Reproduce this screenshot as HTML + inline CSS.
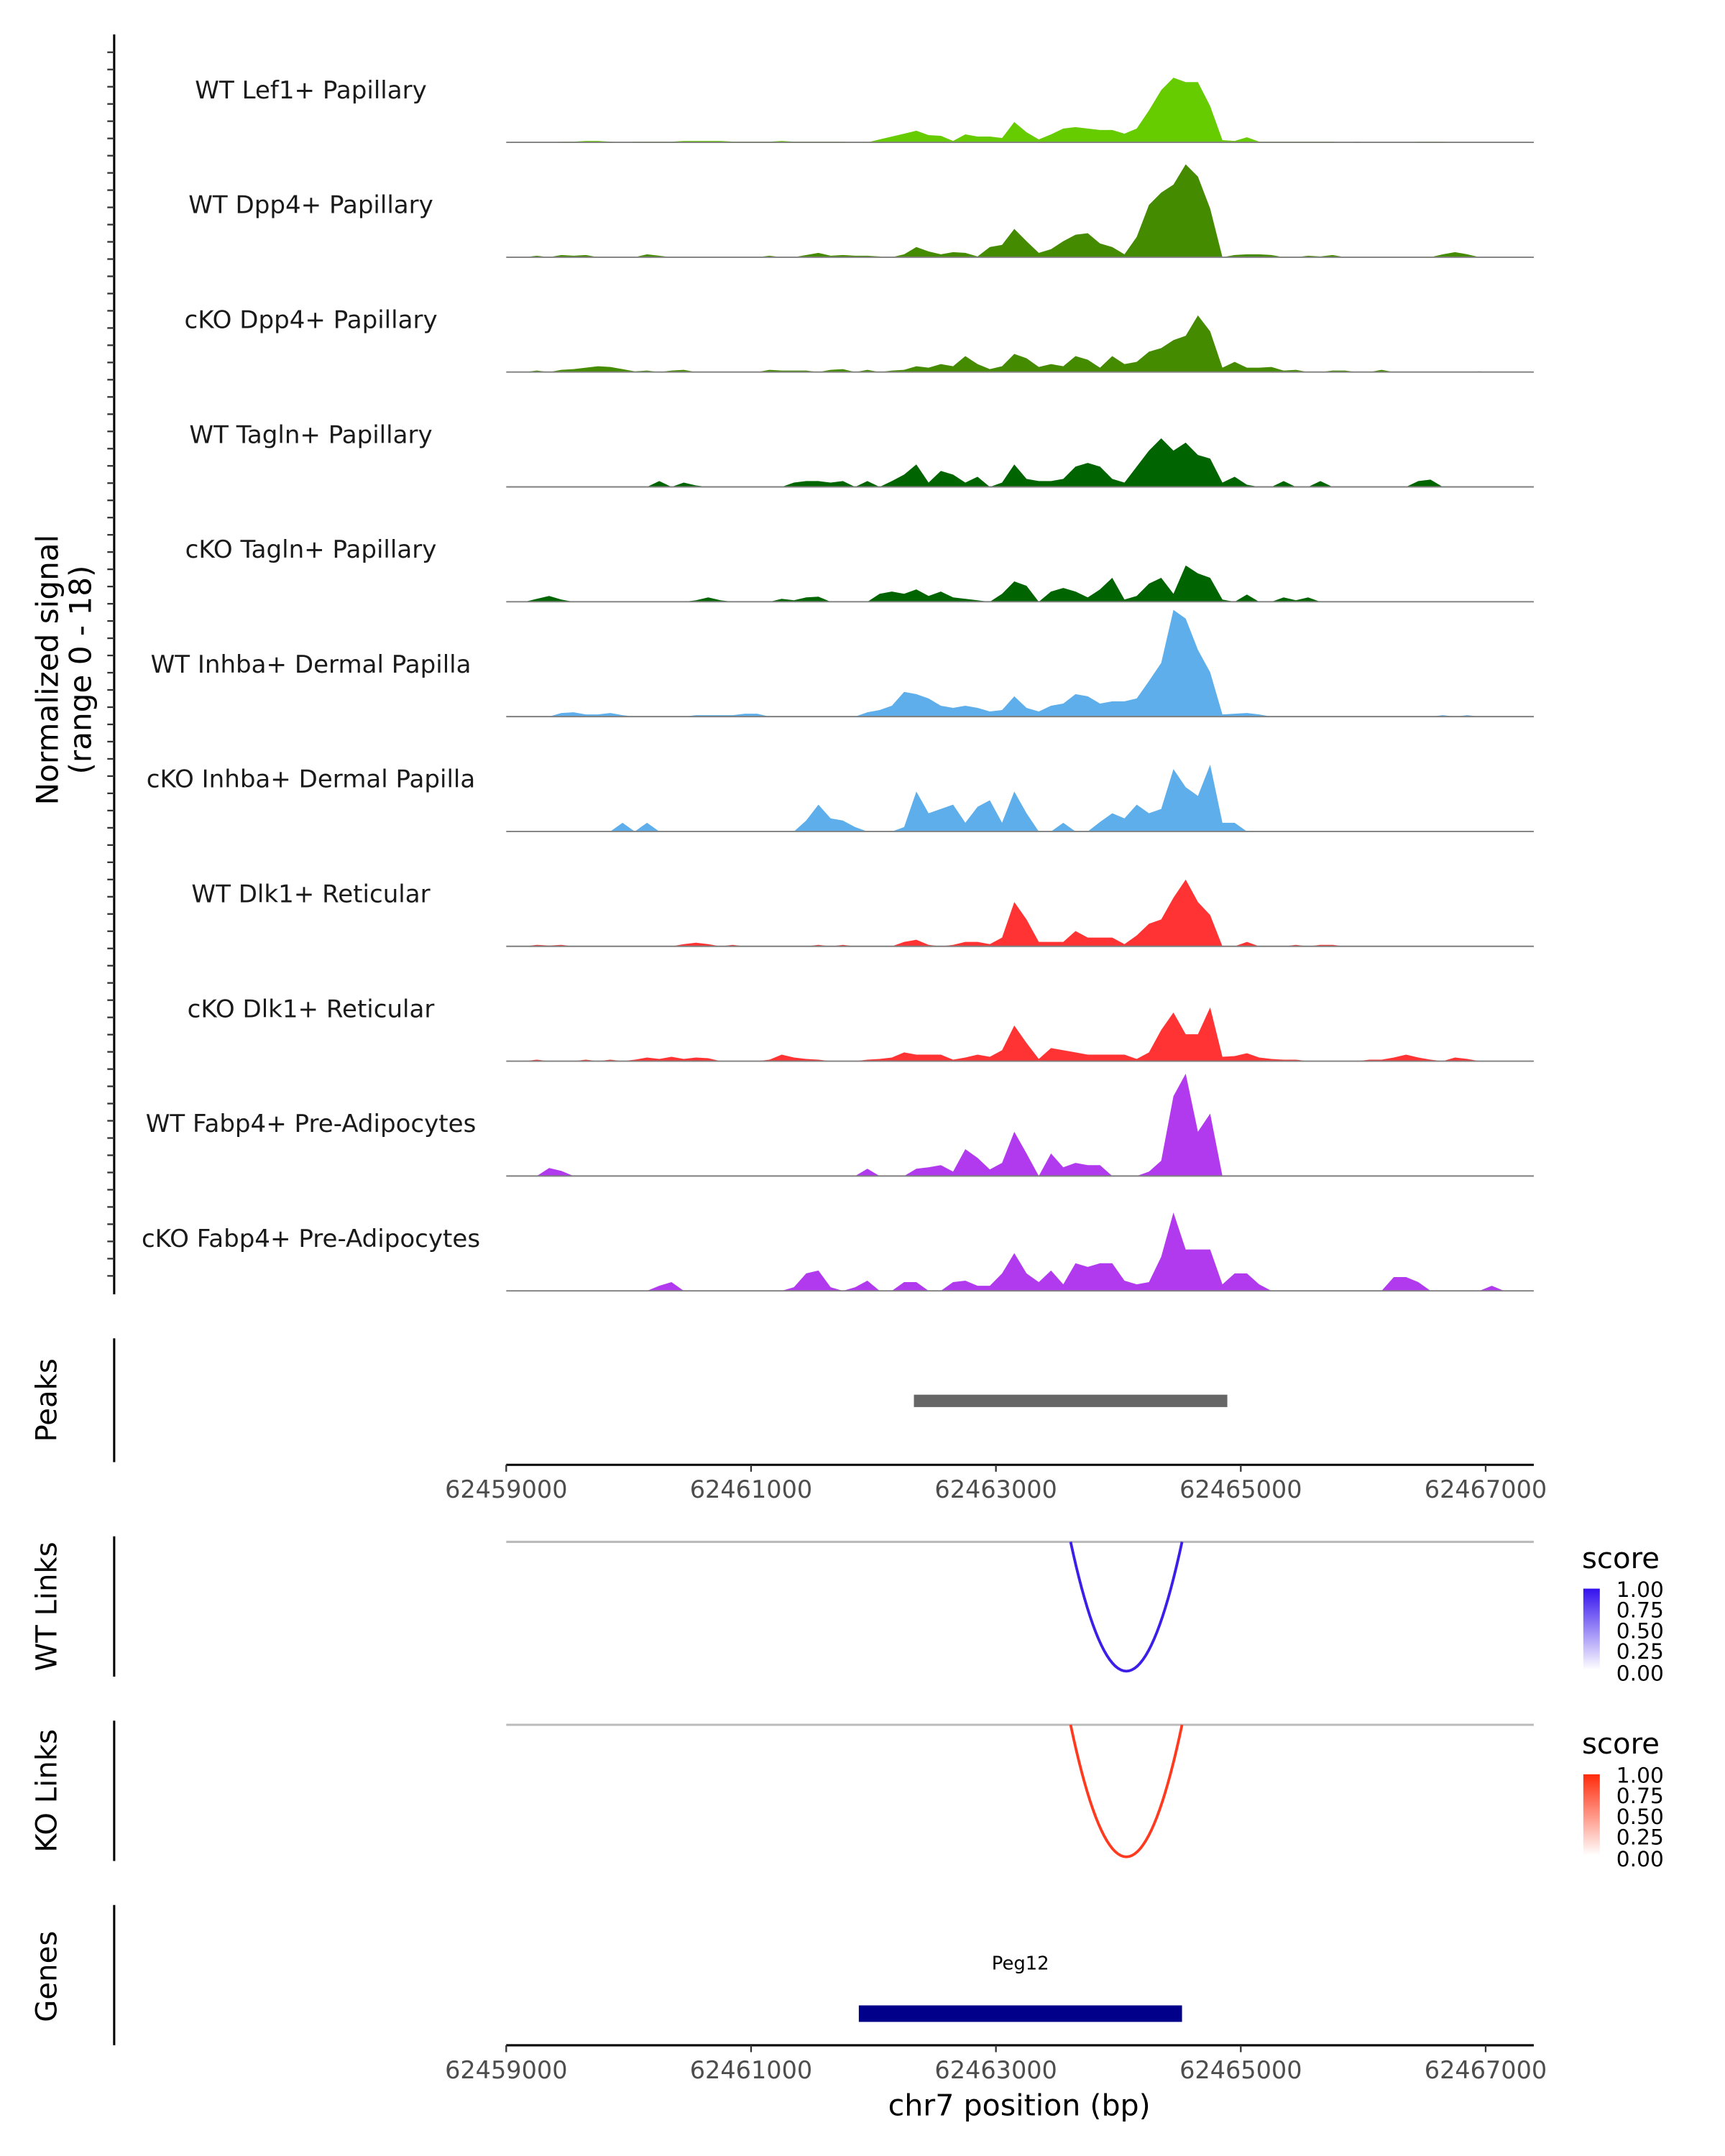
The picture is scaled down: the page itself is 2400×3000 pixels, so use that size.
<!DOCTYPE html>
<html><head><meta charset="utf-8"><style>
html,body{margin:0;padding:0;background:#fff;}
svg{display:block;font-family:"DejaVu Sans","Liberation Sans",sans-serif;}
</style></head><body>
<svg id="chart" width="2400" height="3000" viewBox="0 0 1254 1567.5" xmlns="http://www.w3.org/2000/svg">
<g id="tracks"></g>
<line x1="83" y1="25" x2="83" y2="941" stroke="#000" stroke-width="1.6"/>
<g id="yticks"></g>
<text transform="translate(42,487) rotate(-90)" text-anchor="middle" font-size="22">Normalized signal</text>
<text transform="translate(66,487) rotate(-90)" text-anchor="middle" font-size="22">(range 0 - 18)</text>

<line x1="83" y1="973" x2="83" y2="1063" stroke="#000" stroke-width="1.6"/>
<text transform="translate(41,1018) rotate(-90)" text-anchor="middle" font-size="21">Peaks</text>
<g id="peaks"></g>
<g id="xaxis1"></g>

<line x1="83" y1="1117" x2="83" y2="1219" stroke="#000" stroke-width="1.6"/>
<text transform="translate(41,1168) rotate(-90)" text-anchor="middle" font-size="21">WT Links</text>
<line x1="368" y1="1121" x2="1115" y2="1121" stroke="#bbb" stroke-width="1.6"/>
<g id="wtlinks"></g>

<line x1="83" y1="1251" x2="83" y2="1353" stroke="#000" stroke-width="1.6"/>
<text transform="translate(41,1302) rotate(-90)" text-anchor="middle" font-size="21">KO Links</text>
<line x1="368" y1="1254" x2="1115" y2="1254" stroke="#bbb" stroke-width="1.6"/>
<g id="kolinks"></g>

<defs>
<linearGradient id="gb" x1="0" y1="1" x2="0" y2="0"><stop offset="0" stop-color="#fff"/><stop offset="1" stop-color="#3311ee"/></linearGradient>
<linearGradient id="gr" x1="0" y1="1" x2="0" y2="0"><stop offset="0" stop-color="#fff"/><stop offset="1" stop-color="#ff2a0a"/></linearGradient>
</defs>
<g>
<text x="1150" y="1140" font-size="21">score</text>
<rect x="1151" y="1155" width="12" height="59" fill="url(#gb)"/>
<text x="1175" y="1161" font-size="15.5">1.00</text>
<text x="1175" y="1176" font-size="15.5">0.75</text>
<text x="1175" y="1191" font-size="15.5">0.50</text>
<text x="1175" y="1206" font-size="15.5">0.25</text>
<text x="1175" y="1222" font-size="15.5">0.00</text>
</g>
<g>
<text x="1150" y="1275" font-size="21">score</text>
<rect x="1151" y="1290" width="12" height="59" fill="url(#gr)"/>
<text x="1175" y="1296" font-size="15.5">1.00</text>
<text x="1175" y="1311" font-size="15.5">0.75</text>
<text x="1175" y="1326" font-size="15.5">0.50</text>
<text x="1175" y="1341" font-size="15.5">0.25</text>
<text x="1175" y="1357" font-size="15.5">0.00</text>
</g>

<line x1="83" y1="1385" x2="83" y2="1487" stroke="#000" stroke-width="1.6"/>
<text transform="translate(41,1437) rotate(-90)" text-anchor="middle" font-size="21">Genes</text>
<g id="genes"></g>
<g id="xaxis2"></g>
<text x="741" y="1538" text-anchor="middle" font-size="21.5">chr7 position (bp)</text>
</svg>
<script>
const trackNames = ["WT Lef1+ Papillary","WT Dpp4+ Papillary","cKO Dpp4+ Papillary","WT Tagln+ Papillary","cKO Tagln+ Papillary","WT Inhba+ Dermal Papilla","cKO Inhba+ Dermal Papilla","WT Dlk1+ Reticular","cKO Dlk1+ Reticular","WT Fabp4+ Pre-Adipocytes","cKO Fabp4+ Pre-Adipocytes"];
const trackColors = ["#66cc00","#458b00","#458b00","#006400","#006400","#5daeea","#5daeea","#ff3333","#ff3333","#b23aee","#b23aee"];
const binStart = 62459000;
const binSize = 100;
const lef1WT = [0,0,0,0,.1,.1,.2,.2,.1,0, .1,.1,.1,.1,.2,.2,.2,.2,.1,.1, .1,.1,.2,.1,.1,.1,.1,.1,0,0, .4,.8,1.2,1.6,1,.9,.2,1.1,.8,.8, .6,2.8,1.4,.4,1.1,1.9,2.1,1.9,1.7,1.7, 1.2,1.9,4.4,7.2,8.9,8.3,8.3,5,.3,.2, .7,.1,.1,.1,.1,.1,.1,.1,0,.1, 0,0,0,0,.1,.1,.1,0,0,0,0,0,0,0];
const dpp4WT = [0,0,.2,0,.3,.2,.3,0,0,0, 0,.4,.2,0,0,0,0,0,0,0, 0,.2,0,0,.3,.6,.2,.3,.2,.2, .1,0,.4,1.4,.8,.4,.7,.6,.1,1.4, 1.7,3.9,2.2,.6,1.1,2.2,3.1,3.3,1.9,1.4, .4,2.8,7.2,8.9,10,12.8,11.1,6.7,0,.3, .4,.4,.3,0,0,.2,.1,.3,0,0, 0,0,0,0,0,0,.4,.7,.4,0,0,0,0,0];
const dpp4KO = [0,0,.2,0,.3,.4,.6,.8,.7,.4, .1,.2,0,.2,.3,0,0,0,0,0, 0,.3,.2,.2,.2,0,.3,.4,0,.3, 0,.2,.3,.8,.6,1.1,.8,2.2,1.1,.4, .8,2.5,1.9,.7,1.1,.8,2.2,1.7,.6,2.2, 1.1,1.4,2.8,3.3,4.4,5,7.8,5.6,.6,1.4, .6,.6,.7,.2,.3,0,0,.2,.2,0, 0,.3,0,0,0,0,0,0,0,.1,0,0,0,0];
const taglnWT = [0,0,0,0,0,0,0,0,0,0, 0,0,.8,0,.6,.2,0,0,0,0, 0,0,0,.6,.8,.8,.6,.8,0,.8, 0,.8,1.7,3.1,.6,2.2,1.7,.6,1.4,0, .6,3.1,1.1,.8,.8,1.1,2.8,3.3,2.8,1.1, .6,2.8,5,6.7,5,6.1,4.4,3.9,.6,1.4, .3,0,0,.8,0,0,.8,0,0,0, 0,0,0,0,.8,1,0,0,0,0,0,0,0,0];
const taglnKO = [0,0,.4,.8,.3,0,0,0,0,0, 0,0,0,0,0,.2,.6,.2,0,0, 0,0,.4,.2,.6,.7,0,0,0,0, 1.1,1.4,1.1,1.7,.8,1.4,.6,.4,.2,0, 1.1,2.8,2.2,0,1.4,1.9,1.4,.6,1.7,3.3, .3,.8,2.5,3.3,1.1,5,3.9,3.3,.3,0, 1,0,0,.6,.2,.6,0,0,0,0, 0,0,0,0,0,0,0,0,0,0,0,0,0,0];
const inhbaWT = [0,0,0,0,.5,.6,.3,.3,.5,.2, 0,0,0,0,0,.2,.2,.2,.2,.4, .4,0,0,0,0,0,0,0,0,.6, .9,1.5,3.4,3.1,2.5,1.5,1.2,1.5,1.2,.7, .9,2.8,1.2,.7,1.5,1.8,3.1,2.8,1.8,2.1, 2.1,2.5,4.9,7.4,14.7,13.5,9.2,6.1,.3,.4, .5,.3,0,0,0,0,0,0,0,0, 0,0,0,0,0,0,.2,0,.2,0,0,0,0,0];
const inhbaKO = [0,0,0,0,0,0,0,0,0,1.2, 0,1.2,0,0,0,0,0,0,0,0, 0,0,0,0,1.5,3.7,1.8,1.5,.6,0, 0,0,.6,5.5,2.5,3.1,3.7,1.2,3.4,4.3, 1.2,5.5,2.5,0,0,1.2,0,0,1.3,2.5, 1.8,3.7,2.5,3.1,8.6,6.1,4.9,9.2,1.2,1.2, 0,0,0,0,0,0,0,0,0,0, 0,0,0,0,0,0,0,0,0,0,0,0,0,0];
const dlk1WT = [0,0,.2,.1,.2,0,0,0,0,0, 0,0,0,0,.3,.5,.3,0,.2,0, 0,0,0,0,0,.2,0,.2,0,0, 0,0,.6,.9,.2,0,.2,.6,.6,.3, 1.2,6.1,3.7,.6,.6,.6,2.1,1.2,1.2,1.2, .3,1.5,3.1,3.7,6.7,9.2,6.1,4.3,0,0, .6,0,0,0,.2,0,.2,.2,0,0, 0,0,0,0,0,0,0,0,0,0,0,0,0,0];
const dlk1KO = [0,0,.2,0,0,0,.2,0,.2,0, .2,.5,.3,.6,.3,.5,.4,0,0,0, 0,.2,.9,.5,.3,.2,0,0,0,.2, .3,.5,1.2,.9,.9,.9,.2,.5,.9,.6, 1.5,4.9,2.5,.3,1.8,1.5,1.2,.9,.9,.9, .9,.3,1.2,4.3,6.7,3.7,3.7,7.4,.6,.7, 1.1,.5,.3,.2,.2,0,0,0,0,0, .2,.2,.5,.9,.5,.2,0,.5,.3,0,0,0,0,0];
const fabp4WT = [0,0,0,1.1,.7,0,0,0,0,0, 0,0,0,0,0,0,0,0,0,0, 0,0,0,0,0,0,0,0,0,1, 0,0,0,1,1.2,1.5,.6,3.7,2.5,.9, 1.8,6.1,3.1,0,3.1,1.2,1.8,1.5,1.5,0, 0,0,.6,2.1,11,14.1,6.1,8.6,0,0, 0,0,0,0,0,0,0,0,0,0, 0,0,0,0,0,0,0,0,0,0,0,0,0,0];
const fabp4KO = [0,0,0,0,0,0,0,0,0,0, 0,0,.7,1.2,0,0,0,0,0,0, 0,0,0,.5,2.4,2.8,.5,0,.5,1.4, 0,0,1.2,1.2,0,0,1.2,1.4,.7,.7, 2.4,5.2,2.4,1.2,2.8,.9,3.8,3.3,3.8,3.8, 1.4,.9,1.2,4.7,10.8,5.7,5.7,5.7,.9,2.4, 2.4,.9,0,0,0,0,0,0,0,0, 0,0,1.9,1.9,1.2,0,0,0,0,0,.7,0,0,0];
const trackValues = [lef1WT,dpp4WT,dpp4KO,taglnWT,taglnKO,inhbaWT,inhbaKO,dlk1WT,dlk1KO,fabp4WT,fabp4KO];
const peakRegions = [[62462330,62464890]];
const wtLinks = [[62463610,62464520,1.0]];
const koLinks = [[62463610,62464520,1.0]];
const genes = [["Peg12",62461880,62464520]];
const xTicks = [62459000,62461000,62463000,62465000,62467000];

const NS="http://www.w3.org/2000/svg";
const X0=368, X1=1115, G0=62459000, G1=62467000, PX0=368, PX1=1080;
const xs = g => PX0 + (g-G0)*(PX1-PX0)/(G1-G0);
const yMax = 18, trackH = 95;
const base0 = 103.5, trackStep = 83.5;
function mk(tag, attrs, parent){const e=document.createElementNS(NS,tag);for(const k in attrs)e.setAttribute(k,attrs[k]);parent.appendChild(e);return e;}

const tg=document.getElementById('tracks');
trackValues.forEach((vals,t)=>{
  const b = base0 + t*trackStep;
  const ys = v => b - v/yMax*trackH;
  let d = `M${xs(binStart)},${b}`;
  vals.forEach((v,i)=>{
    const xc = xs(binStart+(i+0.5)*binSize);
    d += ` L${xc},${ys(v)}`;
  });
  d += ` L${xs(binStart+vals.length*binSize)},${b} Z`;
  const p = mk('path',{d:d,fill:trackColors[t],stroke:'none'},tg);
  
  
  const l = mk('line',{x1:X0,x2:X1,y1:b,y2:b,stroke:'#7f7f7f','stroke-width':1},tg);
  
  
  const tx = mk('text',{x:226,y:b-32,'text-anchor':'middle','font-size':17.8,fill:'#1a1a1a'},tg);
  tx.textContent = trackNames[t];
  
  
});
const yt=document.getElementById('yticks');
for(let y=38;y<=940;y+=12.53){
  const l=mk('line',{x1:78,x2:83,y1:y,y2:y,stroke:'#333','stroke-width':1.2},yt);
  
  
}
const pk=document.getElementById('peaks');
peakRegions.forEach(r=>{
  const e=mk('rect',{x:xs(r[0]),y:1014,width:xs(r[1])-xs(r[0]),height:9,fill:'#666'},pk);
  
  
});
function axis(id,y){
  const g=document.getElementById(id);
  const l=mk('line',{x1:X0,x2:X1,y1:y,y2:y,stroke:'#000','stroke-width':1.6},g);
  
  
  xTicks.forEach(v=>{
    const t=mk('line',{x1:xs(v),x2:xs(v),y1:y,y2:y+5,stroke:'#333','stroke-width':1.2},g);
    
    
    const tx=mk('text',{x:xs(v),y:y+24,'text-anchor':'middle','font-size':17.5,fill:'#4d4d4d'},g);
    tx.textContent=String(v);
    
    
  });
}
axis('xaxis1',1065); axis('xaxis2',1487);
function links(id,arr,top,depth,color){
  const g=document.getElementById(id);
  arr.forEach(a=>{
    const xa=xs(a[0]), xb=xs(a[1]);
    let d='';
    for(let k=0;k<=40;k++){const u=k/40;const x=xa+(xb-xa)*u;const y=top+depth*a[2]*4*u*(1-u);d+=(k?' L':'M')+x+','+(y);}
    const p=mk('path',{d:d,fill:'none',stroke:color,'stroke-width':2},g);
    
    
  });
}
links('wtlinks',wtLinks,1121,94,'#3b1fe8');
links('kolinks',koLinks,1254,96,'#ff3a1f');
const gg=document.getElementById('genes');
genes.forEach(gn=>{
  const e=mk('rect',{x:xs(gn[1]),y:1458,width:xs(gn[2])-xs(gn[1]),height:12,fill:'#00008b'},gg);
  
  
  const t=mk('text',{x:(xs(gn[1])+xs(gn[2]))/2,y:1432,'text-anchor':'middle','font-size':13.5},gg);
  t.textContent=gn[0];
  
  
});
</script>
</body></html>
